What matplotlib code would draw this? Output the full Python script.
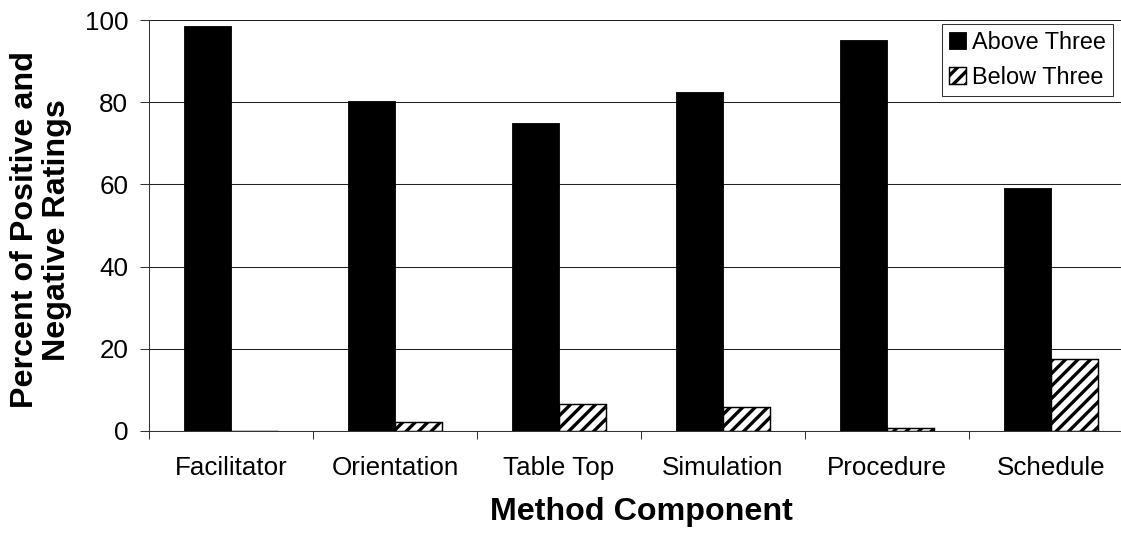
import numpy as np
import matplotlib
matplotlib.use("Agg")
import matplotlib.pyplot as plt
from matplotlib.ticker import FixedLocator, NullFormatter

plt.rcParams['font.family'] = ['Liberation Sans', 'DejaVu Sans']
plt.rcParams['hatch.linewidth'] = 3.2

components = ['Facilitator', 'Orientation', 'Table Top', 'Simulation', 'Procedure', 'Schedule']
above_three = [98.5, 80.2, 75.0, 82.6, 95.1, 59.2]
below_three = [0.0, 2.1, 6.5, 5.8, 0.8, 17.5]
series_names = ['Above Three', 'Below Three']

DPI = 75
fig = plt.figure(figsize=(1121 / DPI, 533 / DPI), dpi=DPI)
ax = fig.add_axes([149 / 1121, 1 - 431 / 533, (1133 - 149) / 1121, (431 - 20) / 533])

x = np.arange(len(components))
w = 0.287
ax.bar(x - w / 2, above_three, w, color='black', edgecolor='black', linewidth=0.8,
       label=series_names[0], zorder=3)
ax.bar(x + w / 2, below_three, w, color='white', edgecolor='black', hatch='//',
       linewidth=1.4, label=series_names[1], zorder=3)

ax.set_xlim(-0.5, len(components) - 0.5)
ax.set_ylim(0, 100)
ax.set_yticks([0, 20, 40, 60, 80, 100])
ax.grid(axis='y', color='#222222', linewidth=1.0, zorder=0)
ax.set_axisbelow(True)

# category boundary ticks, labels centred on categories
ax.xaxis.set_major_locator(FixedLocator(np.arange(-0.5, len(components), 1.0)))
ax.xaxis.set_major_formatter(NullFormatter())
ax.xaxis.set_minor_locator(FixedLocator(x))
ax.set_xticks(x, components, minor=True)
ax.tick_params(axis='x', which='major', direction='out', length=8, width=1.0, color='#333333')
ax.tick_params(axis='x', which='minor', length=0, pad=24, labelsize=25)
ax.tick_params(axis='y', direction='out', length=9, width=1.0, color='#333333',
               pad=11, labelsize=25)

for s in ['top', 'right']:
    ax.spines[s].set_visible(False)
ax.spines['left'].set_color('#333333')
ax.spines['bottom'].set_color('#333333')
ax.spines['left'].set_linewidth(1.0)
ax.spines['bottom'].set_linewidth(1.0)

ax.set_ylabel('Percent of Positive and\nNegative Ratings', fontsize=31, fontweight='bold',
              linespacing=1.1)
ax.yaxis.set_label_coords(-0.078, 0.49)
ax.set_xlabel('Method Component', fontsize=31, fontweight='bold')
ax.xaxis.set_label_coords(0.5, -0.16)

leg = ax.legend(loc='upper right', bbox_to_anchor=((1113 - 149) / 984, (431 - 24) / 411),
                borderaxespad=0, fontsize=22.5, fancybox=False, frameon=True,
                handlelength=0.72, handleheight=0.72, handletextpad=0.27,
                labelspacing=0.5, borderpad=0.3)
leg.get_frame().set_edgecolor('black')
leg.get_frame().set_linewidth(1.0)

fig.savefig('out.png', dpi=DPI)
